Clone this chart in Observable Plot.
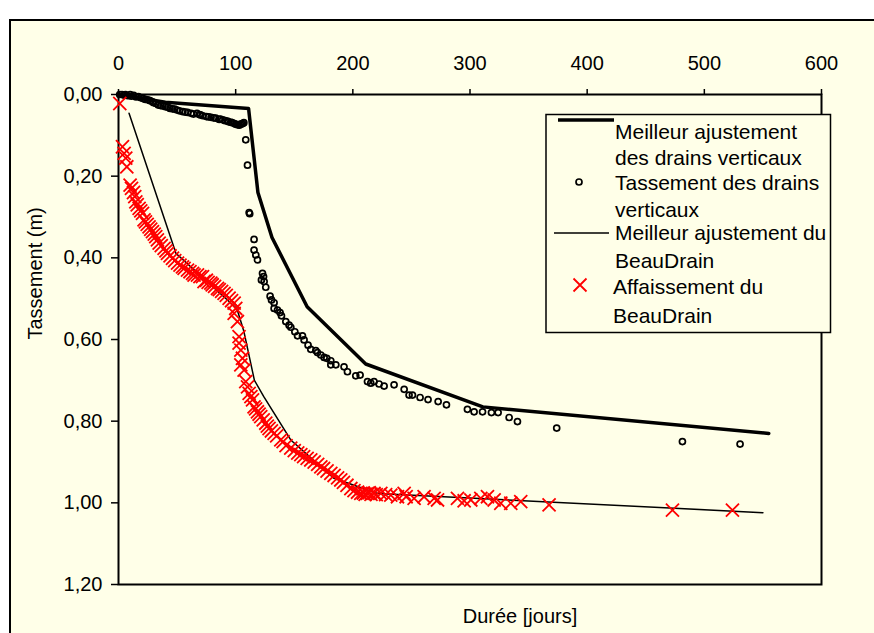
<!DOCTYPE html>
<html><head><meta charset="utf-8">
<script src="https://cdn.jsdelivr.net/npm/d3@7"></script>
<script src="https://cdn.jsdelivr.net/npm/@observablehq/plot@0.6"></script>
<style>
html,body{margin:0;padding:0;background:#fff;overflow:hidden;}
#wrap{position:relative;width:874px;height:633px;overflow:hidden;}
#bg{position:absolute;left:9px;top:19px;width:900px;height:700px;background:#FFFFE8;border:2px solid #000;}
#chart{position:absolute;left:0;top:0;}
</style></head><body>
<div id="wrap"><div id="bg"></div><div id="chart"></div></div>
<script>
const FONT = "'Liberation Sans', Arial, sans-serif";
const BG = "#FFFFE8";

const xTicks = [0, 100, 200, 300, 400, 500, 600];
const yTicks = [0, 0.2, 0.4, 0.6, 0.8, 1.0, 1.2];

// Meilleur ajustement des drains verticaux
const fitDrainsDays = [0, 40, 111, 119, 131, 161, 211, 311, 555];
const fitDrainsVals = [0, 0.019, 0.034, 0.24, 0.35, 0.52, 0.66, 0.765, 0.83];

// Tassement des drains verticaux
const drainsDays = [1,3,5,6,8,10,11,13,15,17,19,21,23,25,27,29,30,32,34,36,38,40,42,44,46,48,50,52,55,57,59,62,64,67,69,70,72,75,77,79,81,83,86,87,89,91,93,94,96,97,99,100,102,103,104,105,106,107,
  108.6,110.1,111.5,112,115.7,115.7,117.2,118.6,122.9,123.8,122,124.3,125.7,129.4,130.6,132.8,132.8,135.7,137.9,139.1,142.8,145.6,147.1,150.5,152.8,157,158.4,161.8,164.1,168.4,169.8,172.7,175.5,177.8,181.2,181.2,185.5,192.5,195.4,202.5,206.2,212.5,215.3,218.1,222.4,226.7,235.2,243.8,248,250.9,257.4,264.2,272.8,279.9,297.8,303.5,310.7,318.3,324,333.4,340.5,374,481.3,530.5];
const drainsVals = [0,0,0.002,0,0.003,0,0.004,0.002,0.006,0.005,0.008,0.010,0.012,0.013,0.015,0.018,0.020,0.022,0.026,0.027,0.028,0.030,0.031,0.034,0.035,0.036,0.038,0.040,0.042,0.043,0.044,0.046,0.048,0.046,0.049,0.050,0.052,0.054,0.055,0.056,0.057,0.058,0.061,0.060,0.062,0.064,0.065,0.067,0.068,0.069,0.071,0.073,0.074,0.075,0.073,0.072,0.071,0.069,
  0.111,0.173,0.289,0.292,0.355,0.381,0.393,0.405,0.438,0.446,0.454,0.458,0.472,0.494,0.503,0.510,0.524,0.528,0.534,0.542,0.556,0.565,0.570,0.581,0.591,0.591,0.601,0.614,0.624,0.627,0.632,0.638,0.644,0.646,0.652,0.662,0.662,0.667,0.679,0.689,0.687,0.703,0.707,0.703,0.709,0.714,0.711,0.722,0.736,0.736,0.742,0.747,0.752,0.760,0.771,0.777,0.777,0.779,0.779,0.791,0.801,0.817,0.850,0.856];

// Meilleur ajustement du BeauDrain
const fitBeauDays = [9, 49, 101, 107, 116, 124, 147, 184, 221, 550];
const fitBeauVals = [0.046, 0.389, 0.524, 0.58, 0.70, 0.74, 0.846, 0.94, 0.977, 1.024];

// Affaissement du BeauDrain
const beauDays = [1.1,3.4,4.8,6.2,7.1,9.9,11.1,12.8,13.9,14.8,16,17.6,19,20.5,21.8,23,24.5,26.1,27.5,29,30.5,31.8,33.2,34.7,36.5,38.9,40.5,41.8,44,46.1,48,50.4,52.5,54.6,56,58.9,61,63.2,64.5,67.4,69.5,71.7,73,75,76.5,78.8,80,82,84.5,86,88,90.1,92,94.4,96.5,98.7,100.1,98.7,101.5,102.9,102.9,104.4,105.8,104.4,107.2,108.6,110.1,111.5,113,114.4,115.7,117,118.6,120,121.4,123.5,125.7,127,128.5,130.5,132.8,135,138.5,
  140.5,143,147,150,153,155.6,158,161,164.1,167,170,172.7,175,178,181.2,184,187,189.7,192,195,198.3,201,204,206.8,209,210.5,212.5,214,215.5,218.1,220,223.9,228,232.4,238.1,243.8,245.5,252.3,260.8,269.4,272.3,289.3,295,300.7,309.2,314.9,320.6,326.3,334.8,343.3,367.5,472.8,524];
const beauVals = [0.022,0.128,0.144,0.156,0.177,0.222,0.230,0.240,0.250,0.263,0.270,0.279,0.285,0.291,0.307,0.312,0.318,0.324,0.330,0.336,0.342,0.348,0.356,0.364,0.370,0.377,0.383,0.389,0.395,0.401,0.407,0.413,0.418,0.422,0.426,0.430,0.434,0.438,0.442,0.442,0.446,0.446,0.458,0.455,0.460,0.462,0.466,0.470,0.475,0.478,0.482,0.487,0.492,0.499,0.505,0.511,0.524,0.536,0.556,0.593,0.609,0.626,0.646,0.662,0.675,0.703,0.716,0.732,0.740,0.748,0.765,0.770,0.777,0.783,0.789,0.797,0.805,0.812,0.818,0.824,0.830,0.836,0.846,
  0.850,0.860,0.866,0.872,0.878,0.882,0.887,0.891,0.895,0.900,0.906,0.912,0.916,0.922,0.928,0.933,0.939,0.944,0.950,0.957,0.965,0.970,0.974,0.977,0.976,0.979,0.977,0.975,0.979,0.977,0.980,0.977,0.980,0.981,0.985,0.977,0.985,0.989,0.985,0.989,0.993,0.989,0.995,0.993,0.989,0.985,0.993,1.001,1.001,0.997,1.005,1.018,1.018];

const zip = (xs, ys) => xs.map((d, i) => ({day: d, value: ys[i]}));
const fitDrains = zip(fitDrainsDays, fitDrainsVals);
const drains = zip(drainsDays, drainsVals);
const fitBeau = zip(fitBeauDays, fitBeauVals);
const beau = zip(beauDays, beauVals);

const fmt = d => d.toFixed(2).replace(".", ",");

const chart = Plot.plot({
  width: 874, height: 633,
  marginLeft: 118, marginRight: 53, marginTop: 94, marginBottom: 49,
  style: {background: "transparent", fontFamily: FONT, fontSize: "20px", color: "#000", overflow: "visible"},
  x: {domain: [0, 600]},
  y: {domain: [0, 1.2], reverse: true},
  marks: [
    Plot.frame({stroke: "#000", strokeWidth: 2}),
    Plot.axisX({anchor: "top", ticks: xTicks, tickSize: 6, tickPadding: 19, tickFormat: d => String(d), label: null, fontSize: 20, strokeWidth: 1.5}),
    Plot.axisY({anchor: "left", ticks: yTicks, tickSize: 7, tickPadding: 9, tickFormat: fmt, label: null, fontSize: 20, strokeWidth: 1.5}),
    Plot.line(fitDrains, {x: "day", y: "value", stroke: "#000", strokeWidth: 3.5}),
    Plot.dot(drains, {x: "day", y: "value", r: 3, stroke: "#000", strokeWidth: 1.7, fill: "none"}),
    Plot.line(fitBeau, {x: "day", y: "value", stroke: "#000", strokeWidth: 1.5}),
    Plot.dot(beau, {x: "day", y: "value", symbol: "times", r: 6, stroke: "#ff0000", strokeWidth: 1.8}),
    Plot.text(["Tassement (m)"], {frameAnchor: "left", dx: -83, rotate: -90, fontSize: 20, fill: "#000"}),
    Plot.text(["Durée [jours]"], {frameAnchor: "bottom", dx: 50, dy: 38, fontSize: 20, fill: "#000"})
  ]
});
document.getElementById("chart").appendChild(chart);

// Legend
const svg = d3.select(chart);
const lg = svg.append("g").attr("font-family", FONT).attr("font-size", 21).attr("fill", "#000").attr("text-anchor", "start");
lg.append("rect").attr("x", 546).attr("y", 114.5).attr("width", 284.5).attr("height", 218)
  .attr("fill", BG).attr("stroke", "#000").attr("stroke-width", 1.5);
lg.append("line").attr("x1", 558).attr("x2", 614).attr("y1", 120).attr("y2", 120).attr("stroke", "#000").attr("stroke-width", 3.5);
lg.append("circle").attr("cx", 579).attr("cy", 182).attr("r", 3).attr("fill", "none").attr("stroke", "#000").attr("stroke-width", 1.7);
lg.append("line").attr("x1", 554).attr("x2", 609).attr("y1", 233).attr("y2", 233).attr("stroke", "#000").attr("stroke-width", 1.5);
lg.append("path").attr("d", "M573.5,278.5L586.5,291.5M573.5,291.5L586.5,278.5").attr("stroke", "#ff0000").attr("stroke-width", 1.8);
const legendLines = [
  ["Meilleur ajustement", 615, 139], ["des drains verticaux", 615, 165],
  ["Tassement des drains", 615, 190], ["verticaux", 615, 217],
  ["Meilleur ajustement du", 615, 240], ["BeauDrain", 615, 268],
  ["Affaissement du", 613, 294], ["BeauDrain", 613, 323]
];
legendLines.forEach(([t, x, y]) => lg.append("text").attr("x", x).attr("y", y).attr("text-anchor", "start").text(t));
</script></body></html>
